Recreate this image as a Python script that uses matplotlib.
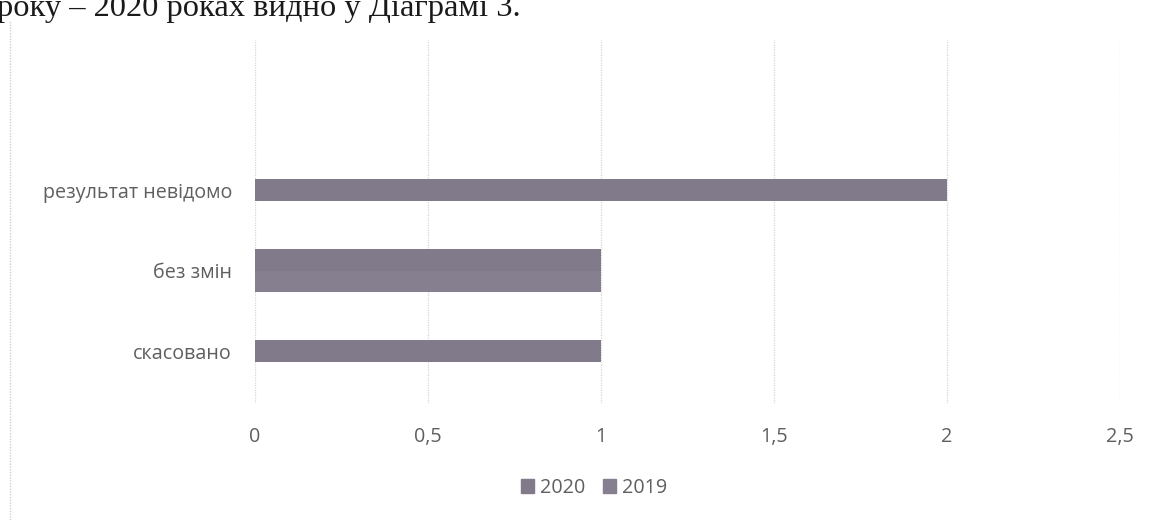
import matplotlib.pyplot as plt
from matplotlib.lines import Line2D
from matplotlib.patches import Patch

# === Data ===
categories = ["скасовано", "без змін", "результат невідомо"]
series_names = ["2020", "2019"]
values_2020 = [1, 1, 2]
values_2019 = [0, 1, 0]
x_ticks = [0, 0.5, 1, 1.5, 2, 2.5]
x_tick_labels = ["0", "0,5", "1", "1,5", "2", "2,5"]
caption = "року – 2020 роках видно у Діаграмі 3."

colors = ["#807a8a", "#857f8f"]
label_color = "#5f5f5f"
bar_h = 0.27
fs = 14.2

fig = plt.figure(figsize=(11.54, 5.2), dpi=100)
ax = fig.add_axes([0.221, 0.225, 0.7495, 0.698])

# bars of one category sit side by side, centred on the category
series = [values_2020, values_2019]
for i, cat in enumerate(categories):
    present = [s for s in range(len(series)) if series[s][i] > 0]
    n = len(present)
    for k, s in enumerate(present):
        offset = (n - 1) / 2 * bar_h - k * bar_h
        ax.barh(i + offset, series[s][i], height=bar_h, color=colors[s], zorder=3)

ax.set_xlim(0, 2.5)
ax.set_ylim(-0.64, 3.86)
ax.set_xticks(x_ticks)
ax.set_xticklabels(x_tick_labels)
ax.set_yticks(range(len(categories)))
ax.set_yticklabels(categories)
ax.grid(axis="x", color="#d6d6d6", linewidth=0.9, linestyle=(0, (1, 1)), zorder=0)
for sp in ax.spines.values():
    sp.set_visible(False)
ax.tick_params(length=0, labelsize=fs, labelcolor=label_color)
ax.tick_params(axis="x", pad=17)
ax.tick_params(axis="y", pad=16.5)
for t in ax.get_xticklabels() + ax.get_yticklabels():
    t.set_family("Open Sans")

handles = [Patch(color=colors[s], label=series_names[s]) for s in range(len(series_names))]
fig.legend(handles=handles, loc="center", bbox_to_anchor=(0.515, 0.0615), ncol=2,
           frameon=False, handlelength=0.66, handleheight=0.66, handletextpad=0.3,
           columnspacing=0.9, prop={"family": "Open Sans", "size": fs},
           labelcolor=label_color)

# chart frame edge from the scan and the sentence above the chart (cut at top as in the scan)
fig.add_artist(Line2D([10 / 1154, 10 / 1154], [0, 1 - 20 / 520], color="#d0d0d0",
                      linewidth=1.0, linestyle=(0, (1, 1))))
fig.text(-0.003, 1 - 16 / 520, caption, family="Liberation Serif", fontsize=23.4,
         va="baseline", ha="left", color="#1a1a1a")

fig.savefig("out.png", dpi=100)
